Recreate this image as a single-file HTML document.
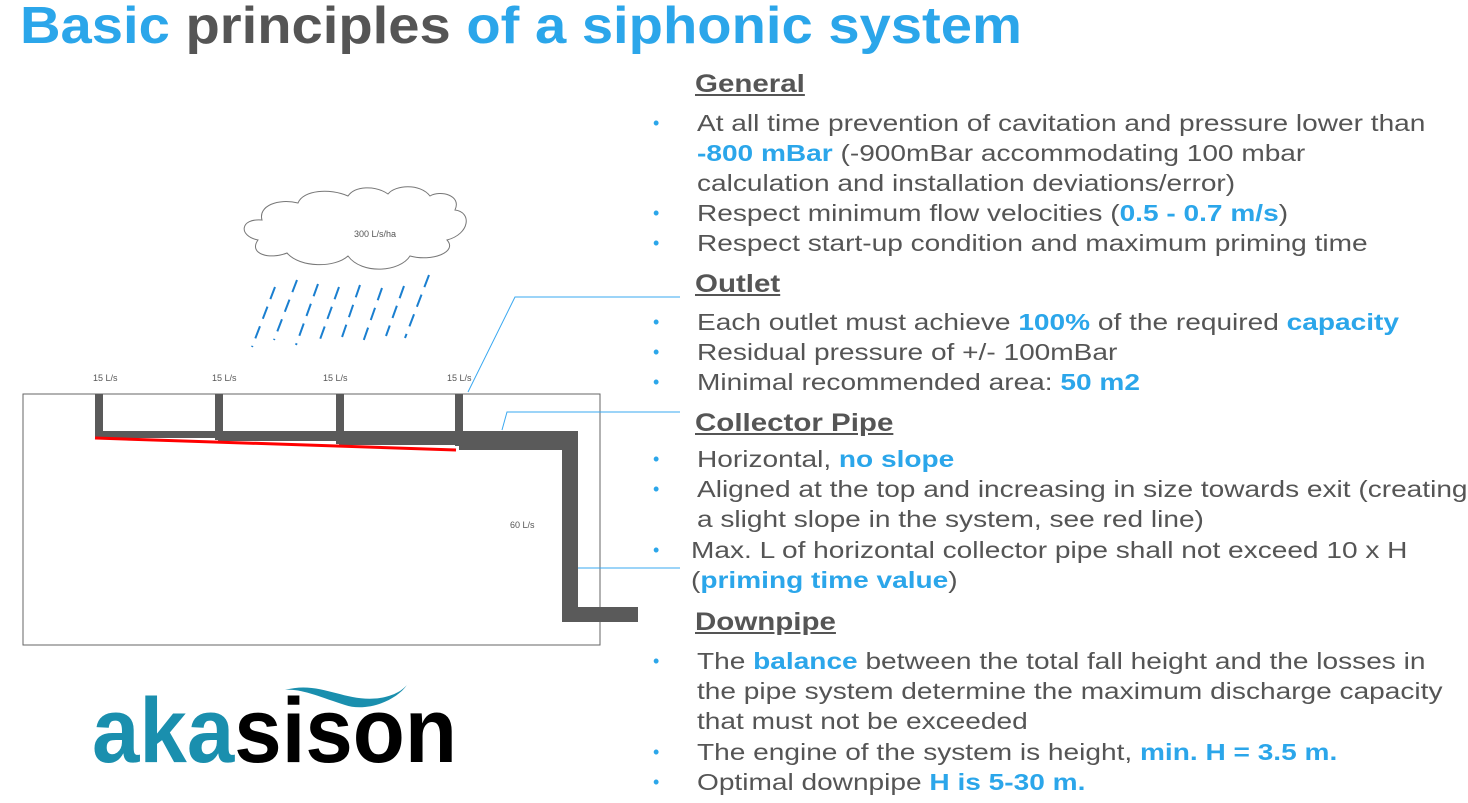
<!DOCTYPE html>
<html><head><style>
body{margin:0;width:1468px;height:803px;overflow:hidden;background:#fff;font-family:"Liberation Sans",sans-serif;position:relative}
.t{position:absolute;left:20px;top:-4px;font-size:52px;font-weight:bold;color:#2ba6ea;white-space:nowrap;transform:scaleX(1.08);transform-origin:0 0}
.t span{color:#555}
.h{position:absolute;left:695px;font-size:25px;font-weight:bold;color:#555;text-decoration:underline;white-space:nowrap;transform:scaleX(1.18);transform-origin:0 0}
.l{position:absolute;left:697px;font-size:23px;color:#555;white-space:nowrap;line-height:30px;transform:scaleX(1.22);transform-origin:0 0}
.l b{color:#2ba6ea}
.d{position:absolute;left:653px;color:#2ba6ea;font-size:18px;line-height:30px}
</style></head><body>
<div class="t">Basic <span>principles</span> of a siphonic system</div>
<svg width="1468" height="803" style="position:absolute;left:0;top:0">
<path d="M262 220 C240 218 238 236 258 240 C248 254 270 260 287 253 C300 268 335 268 348 256 C362 275 400 272 410 256 C432 262 458 252 447 240 C470 234 472 212 455 210 C462 195 440 190 430 196 C420 183 395 185 388 194 C375 185 355 186 348 196 C330 188 303 190 298 203 C278 198 258 206 262 220 Z" fill="#fff" stroke="#777" stroke-width="1"/>
<text x="375" y="237" font-size="9" fill="#555" text-anchor="middle" font-family="Liberation Sans">300 L/s/ha</text>
<g stroke="#1a7fd0" stroke-width="2" stroke-dasharray="13 8">
<line x1="275" y1="287" x2="252" y2="347"/><line x1="297" y1="280" x2="274" y2="340"/>
<line x1="318" y1="284" x2="296" y2="345"/><line x1="339" y1="287" x2="318" y2="345"/>
<line x1="360" y1="285" x2="340" y2="343"/><line x1="382" y1="288" x2="362" y2="345"/>
<line x1="404" y1="286" x2="386" y2="336"/><line x1="429" y1="275" x2="405" y2="338"/>
</g>
<rect x="23" y="394" width="577" height="251" fill="none" stroke="#666" stroke-width="1"/>
<g fill="#5a5a5a">
<rect x="95" y="394" width="8" height="44"/><rect x="215" y="394" width="8" height="46"/>
<rect x="336" y="394" width="8" height="50"/><rect x="455" y="394" width="8" height="52"/>
<rect x="95" y="431" width="125" height="7"/><rect x="218" y="431" width="125" height="10"/>
<rect x="339" y="431" width="122" height="14"/><rect x="459" y="431" width="119" height="19"/>
<rect x="562" y="431" width="16" height="191"/><rect x="562" y="607" width="76" height="15"/>
</g>
<line x1="95" y1="438" x2="456" y2="450" stroke="#f00" stroke-width="3"/>
<g font-size="9" fill="#555" font-family="Liberation Sans">
<text x="93" y="381">15 L/s</text><text x="212" y="381">15 L/s</text><text x="323" y="381">15 L/s</text><text x="447" y="381">15 L/s</text><text x="510" y="528">60 L/s</text>
</g>
<g stroke="#3aa8f0" stroke-width="1" fill="none">
<polyline points="468,392 515,297 680,297"/><polyline points="502,430 507,412 680,412"/><polyline points="578,568 680,568"/>
</g>
<path d="M285 690 C320 680 345 703 380 698 C398 695 404 688 407 685 C395 702 365 712 345 705 C320 697 300 688 285 690 Z" fill="#1a8fae"/>
<text x="92" y="762" font-size="92" font-weight="bold" font-family="Liberation Sans" textLength="365" lengthAdjust="spacingAndGlyphs"><tspan fill="#1a8fae">aka</tspan><tspan fill="#000">sison</tspan></text>
</svg>
<div class="h" style="top:70px">General</div>
<div class="d" style="top:108px">•</div><div class="l" style="top:108px">At all time prevention of cavitation and pressure lower than</div>
<div class="l" style="top:138px"><b>-800 mBar</b> (-900mBar accommodating 100 mbar</div>
<div class="l" style="top:168px">calculation and installation deviations/error)</div>
<div class="d" style="top:198px">•</div><div class="l" style="top:198px">Respect minimum flow velocities (<b>0.5 - 0.7 m/s</b>)</div>
<div class="d" style="top:228px">•</div><div class="l" style="top:228px">Respect start-up condition and maximum priming time</div>
<div class="h" style="top:270px">Outlet</div>
<div class="d" style="top:307px">•</div><div class="l" style="top:307px">Each outlet must achieve <b>100%</b> of the required <b>capacity</b></div>
<div class="d" style="top:337px">•</div><div class="l" style="top:337px">Residual pressure of +/- 100mBar</div>
<div class="d" style="top:367px">•</div><div class="l" style="top:367px">Minimal recommended area: <b>50 m2</b></div>
<div class="h" style="top:409px">Collector Pipe</div>
<div class="d" style="top:444px">•</div><div class="l" style="top:444px">Horizontal, <b>no slope</b></div>
<div class="d" style="top:474px">•</div><div class="l" style="top:474px">Aligned at the top and increasing in size towards exit (creating</div>
<div class="l" style="top:504px">a slight slope in the system, see red line)</div>
<div class="d" style="top:535px">•</div><div class="l" style="top:535px;left:691px">Max. L of horizontal collector pipe shall not exceed 10 x H</div>
<div class="l" style="top:565px;left:691px">(<b>priming time value</b>)</div>
<div class="h" style="top:608px">Downpipe</div>
<div class="d" style="top:646px">•</div><div class="l" style="top:646px">The <b>balance</b> between the total fall height and the losses in</div>
<div class="l" style="top:676px">the pipe system determine the maximum discharge capacity</div>
<div class="l" style="top:706px">that must not be exceeded</div>
<div class="d" style="top:737px">•</div><div class="l" style="top:737px">The engine of the system is height, <b>min. H = 3.5 m.</b></div>
<div class="d" style="top:767px">•</div><div class="l" style="top:767px">Optimal downpipe <b>H is 5-30 m.</b></div>
</body></html>
